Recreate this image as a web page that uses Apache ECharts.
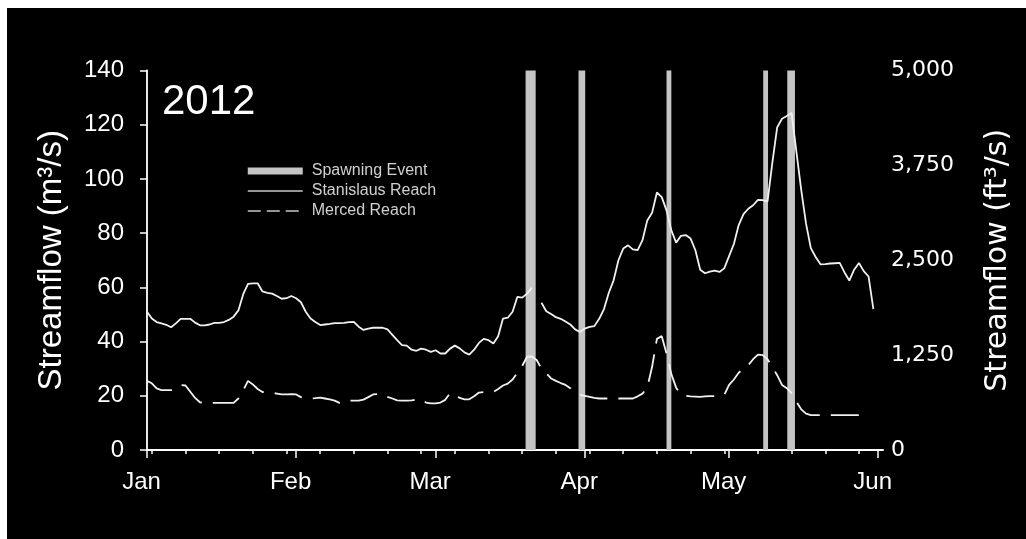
<!DOCTYPE html>
<html><head><meta charset="utf-8">
<script src="https://cdn.jsdelivr.net/npm/echarts@6/dist/echarts.min.js"></script>
<style>
html,body{margin:0;padding:0;background:#fff;width:1026px;height:539px;overflow:hidden;}
#chart{position:absolute;left:7px;top:8px;width:1019px;height:531px;background:#000;}
</style></head><body><div id="chart"></div>
<script>
// Day index = days since 1 Jan 2012
const monthLabels = ['Jan', 'Feb', 'Mar', 'Apr', 'May', 'Jun'];
const monthStartDays = [0, 31, 60, 91, 121, 152];
const weekTickDays = [1, 8, 15, 22, 29, 36, 43, 50, 57, 64, 71, 78, 85, 92, 99, 106, 113, 120, 127, 134, 141, 148];
const leftTicks = [0, 20, 40, 60, 80, 100, 120, 140];
const rightTicks = [0, 1250, 2500, 3750, 5000];

// Stanislaus Reach daily streamflow (m3/s), day 0..151
const stanislaus = [
  51.0, 48.5, 47.2, 46.7, 46.2, 45.3, 46.7, 48.4, 48.4, 48.4,
  47.0, 46.0, 46.0, 46.3, 46.9, 46.9, 47.2, 48.0, 49.2, 51.5,
  57.5, 61.3, 61.5, 61.5, 58.5, 58.0, 57.7, 56.8, 55.8, 56.0,
  56.8, 56.0, 54.5, 51.0, 48.5, 47.2, 46.1, 46.3, 46.5, 46.8,
  46.8, 46.9, 47.2, 47.3, 45.5, 44.3, 44.8, 45.1, 45.1, 45.1,
  44.5, 42.5, 40.5, 38.7, 38.5, 37.0, 36.6, 37.4, 37.0, 36.2,
  36.8, 35.6, 35.6, 37.4, 38.5, 37.5, 36.0, 35.2, 37.0, 39.5,
  41.0, 40.5, 39.3, 42.0, 48.5, 48.8, 51.0, 56.5, 56.2, 57.7,
  59.9, null, 54.3, 51.2, 50.2, 49.0, 48.4, 47.4, 46.3, 44.5,
  43.5, 44.8, 45.4, 45.7, 48.4, 52.0, 58.0, 62.6, 70.0, 74.3,
  75.5, 74.0, 73.7, 77.4, 84.7, 87.5, 95.0, 93.3, 88.4, 81.0,
  76.5, 79.0, 79.3, 78.0, 73.7, 66.5, 65.2, 65.8, 66.2, 65.7,
  67.0, 71.5, 76.0, 83.0, 87.0, 89.0, 90.3, 92.3, 92.2, 91.7,
  106.0, 119.0, 122.2, 123.2, 124.3, 110.0, 96.0, 83.5, 74.5, 71.2,
  68.5, 68.6, 68.8, 68.9, 69.0, 65.5, 62.5, 66.5, 69.0, 66.0,
  64.0, 52.0
];

// Merced Reach daily streamflow (m3/s), day 0..150
const merced = [
  25.5, 24.6, 22.7, 22.1, 22.1, 22.1, 23.0, 24.0, 23.8, 21.5,
  19.2, 17.6, 17.4, 17.4, 17.4, 17.4, 17.4, 17.4, 17.4, 19.0,
  22.0, 25.5, 24.2, 22.5, 21.4, 21.2, 21.1, 20.8, 20.5, 20.5,
  20.6, 20.5, 19.5, 19.2, 19.0, 19.1, 19.3, 19.0, 18.7, 18.2,
  17.4, 17.4, 18.2, 18.2, 18.2, 18.6, 19.5, 20.5, 20.6, 20.6,
  19.6, 19.0, 18.3, 18.2, 18.2, 18.3, 18.6, 18.8, 17.5, 17.2,
  17.2, 17.5, 18.5, 21.0, 20.6, 19.2, 18.7, 18.7, 19.8, 21.2,
  21.4, 21.4, 21.4, 22.5, 23.8, 24.5, 26.0, 28.5, 31.0, 34.4,
  34.5, 33.2, 30.0, 28.3, 26.4, 25.5, 24.7, 24.0, 22.8, 21.0,
  20.3, 20.0, 19.6, 19.2, 19.0, 19.0, 19.0, 19.0, 19.0, 19.0,
  19.0, 19.0, 19.8, 20.8, 23.0, 30.7, 41.0, 42.0, 35.6, 28.0,
  23.0, 20.3, 20.0, 19.8, 19.7, 19.6, 19.8, 19.9, 19.9, 20.0,
  20.3, 24.0, 26.0, 28.5, 30.0, 31.3, 33.5, 35.2, 35.0, 33.5,
  30.5, 27.6, 24.0, 22.8, 21.0, 17.8, 15.0, 13.4, 12.9, 12.9,
  12.9, 12.9, 12.9, 12.9, 12.9, 12.9, 12.9, 12.9, 12.9, 12.9,
  12.9
];

// Spawning events (day index start / end)
const spawnStart = [78.7, 89.7, 108.0, 128.1, 133.1];
const spawnEnd   = [80.8, 91.1, 109.0, 129.1, 134.7];

const chart = echarts.init(document.getElementById('chart'), null, {renderer: 'canvas'});
const toPairs = arr => arr.map((v, i) => [i, v === null ? '-' : v]);
const fmtThousands = v => String(v).replace(/\B(?=(\d{3})+(?!\d))/g, ',');

chart.setOption({
  backgroundColor: '#000',
  animation: false,
  grid: {left: 140, right: 143, top: 62.5, bottom: 89, containLabel: false},
  graphic: [{
    type: 'text', left: 155, top: 73,
    style: {text: '2012', fill: '#fff', font: '42px "Liberation Sans", Arial, sans-serif'}
  }],
  legend: {
    orient: 'vertical', left: 235, top: 150,
    itemWidth: 55, itemHeight: 7, itemGap: 4,
    selectedMode: false,
    textStyle: {color: '#d0d0d0', fontSize: 16, fontFamily: 'Liberation Sans', lineHeight: 16, padding: [0, 0, 0, 4]},
    data: [
      {name: 'Spawning Event', icon: 'rect', itemStyle: {color: '#c4c4c4'}},
      {name: 'Stanislaus Reach', itemStyle: {opacity: 0}, lineStyle: {color: '#c8c8c8', width: 1.5}},
      {name: 'Merced Reach', itemStyle: {opacity: 0}, lineStyle: {color: '#c8c8c8', width: 1.5, type: [13, 6]}}
    ]
  },
  xAxis: [{
    type: 'value', min: 0, max: 153, position: 'bottom',
    axisLine: {show: true, lineStyle: {color: '#fff', width: 2}},
    axisTick: {show: true, customValues: weekTickDays, length: 4, lineStyle: {color: '#fff', width: 1.5}},
    axisLabel: {
      customValues: monthStartDays,
      formatter: v => monthLabels[monthStartDays.indexOf(v)],
      color: '#fff', fontSize: 24, fontFamily: 'Liberation Sans', margin: 20, padding: [0, 11, 0, 0]
    },
    splitLine: {show: false}
  }, {
    type: 'value', min: 0, max: 153, position: 'bottom',
    axisLine: {show: false},
    axisTick: {show: true, customValues: monthStartDays, length: 8, lineStyle: {color: '#fff', width: 1.5}},
    axisLabel: {show: false},
    splitLine: {show: false}
  }],
  yAxis: [{
    type: 'value', min: 0, max: 140, interval: 20, position: 'left',
    axisLine: {show: true, lineStyle: {color: '#fff', width: 2}},
    axisTick: {show: true, length: 7, lineStyle: {color: '#fff', width: 1.5}},
    axisLabel: {
      customValues: leftTicks,
      color: '#fff', fontSize: 24, fontFamily: 'Liberation Sans', margin: 23
    },
    splitLine: {show: false},
    name: 'Streamflow (m³/s)', nameLocation: 'middle', nameGap: 79, nameRotate: 90,
    nameTextStyle: {color: '#fff', fontSize: 33, fontFamily: 'Liberation Sans'}
  }, {
    type: 'value', min: 0, max: 5000, interval: 1250, position: 'right',
    axisLine: {show: true, lineStyle: {color: '#e0e0e0', width: 1.5}},
    axisTick: {show: false},
    axisLabel: {
      customValues: rightTicks,
      formatter: fmtThousands,
      color: '#fff', fontSize: 22, fontFamily: 'DejaVu Sans', margin: 8
    },
    splitLine: {show: false},
    name: 'Streamflow (ft³/s)', nameLocation: 'middle', nameGap: 100, nameRotate: 90,
    nameTextStyle: {color: '#fff', fontSize: 30, fontFamily: 'DejaVu Sans'}
  }],
  series: [{
    name: 'Spawning Event', type: 'line', data: [], z: 1,
    xAxisIndex: 0, yAxisIndex: 0,
    symbol: 'none', color: '#c4c4c4',
    lineStyle: {color: '#c4c4c4', width: 7},
    markArea: {
      silent: true,
      itemStyle: {color: '#c4c4c4', opacity: 1},
      data: spawnStart.map((s, i) => [{xAxis: s}, {xAxis: spawnEnd[i]}])
    }
  }, {
    name: 'Stanislaus Reach', type: 'line', data: toPairs(stanislaus), z: 3,
    xAxisIndex: 0, yAxisIndex: 0,
    symbol: 'none', connectNulls: false, color: '#f0f0f0',
    lineStyle: {color: '#f0f0f0', width: 1.8}
  }, {
    name: 'Merced Reach', type: 'line', data: toPairs(merced), z: 3,
    xAxisIndex: 0, yAxisIndex: 0,
    symbol: 'none', color: '#f0f0f0',
    lineStyle: {color: '#f0f0f0', width: 1.8, type: [28, 11]}
  }]
});
</script></body></html>
